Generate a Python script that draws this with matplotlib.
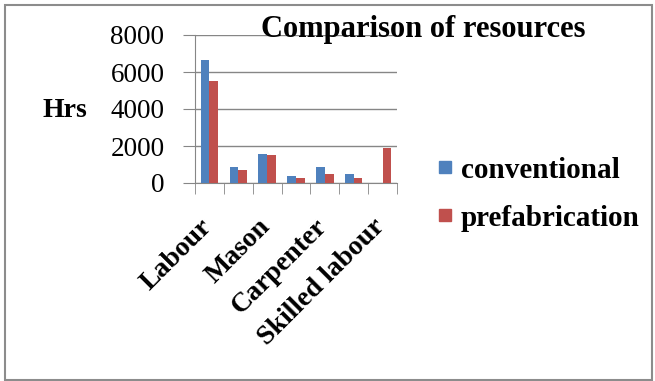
import matplotlib
matplotlib.use("Agg")
import matplotlib.pyplot as plt
import matplotlib.transforms as mtransforms
from matplotlib.lines import Line2D
import numpy as np
from matplotlib.patches import Rectangle

categories = ["Labour", "", "Mason", "", "Carpenter", "", "Skilled labour"]
conventional = [6650, 850, 1560, 360, 850, 500, 0]
prefabrication = [5490, 720, 1510, 290, 500, 290, 1870]
series_names = ["conventional", "prefabrication"]
yticks = [0, 2000, 4000, 6000, 8000]

plt.rcParams['font.family'] = ['Liberation Serif', 'DejaVu Serif']

W, H = 655, 381
fig = plt.figure(figsize=(W / 100, H / 100), dpi=100)
ax = fig.add_axes([195 / W, 1 - 183 / H, (397 - 195) / W, (183 - 35) / H])

x = np.arange(len(categories))
bw = 0.3
blue = "#4F81BD"
red = "#C0504D"
ax.bar(x - bw / 2, conventional, bw, color=blue, label=series_names[0], zorder=3)
ax.bar(x + bw / 2, prefabrication, bw, color=red, label=series_names[1], zorder=3)

ax.set_xlim(-0.5, len(categories) - 0.5)
ax.set_ylim(0, 8000)
ax.set_yticks(yticks)
ax.set_yticklabels([str(v) for v in yticks], fontsize=19.5)
ax.yaxis.grid(True, color="#868686", lw=1, zorder=0)
ax.tick_params(axis='y', length=9, color="#868686", pad=13)

ax.set_xticks(x)
ax.set_xticklabels(categories, rotation=45, ha='right', va='top',
                   rotation_mode='anchor', fontsize=20, fontweight='bold')
ax.tick_params(axis='x', which='major', length=0, pad=24)
ax.set_xticks(np.arange(-0.5, len(categories), 1.0), minor=True)
ax.tick_params(axis='x', which='minor', length=8, color="#868686")
offset = mtransforms.ScaledTranslation(-10 / 100, 2 / 100, fig.dpi_scale_trans)
for lab in ax.get_xticklabels():
    lab.set_transform(lab.get_transform() + offset)

for s in ['top', 'right']:
    ax.spines[s].set_visible(False)
for s in ['left', 'bottom']:
    ax.spines[s].set_color("#868686")

fig.text(65 / W, 1 - 110 / H, "Hrs", fontsize=20, fontweight='bold',
         ha='center', va='center')
fig.text(423 / W, 1 - 30 / H, "Comparison of resources", fontsize=22,
         fontweight='bold', ha='center', va='center')

handles = [Line2D([], [], linestyle='none', marker='s', markersize=9,
                  markerfacecolor=c, markeredgecolor=c) for c in (blue, red)]
leg = fig.legend(handles, series_names, loc='center left',
                 bbox_to_anchor=(436 / W, 1 - 194 / H),
                 frameon=False, prop={'size': 21, 'weight': 'bold'},
                 borderpad=0, borderaxespad=0,
                 handlelength=0.6, handletextpad=0.25,
                 labelspacing=0.72)

fig.patches.append(Rectangle((5 / W, 1 / H), (652 - 5) / W, (376 - 1) / H,
                             transform=fig.transFigure, fill=False,
                             edgecolor="#8c8c8c", lw=1.5))

fig.savefig("out.png", dpi=100)
